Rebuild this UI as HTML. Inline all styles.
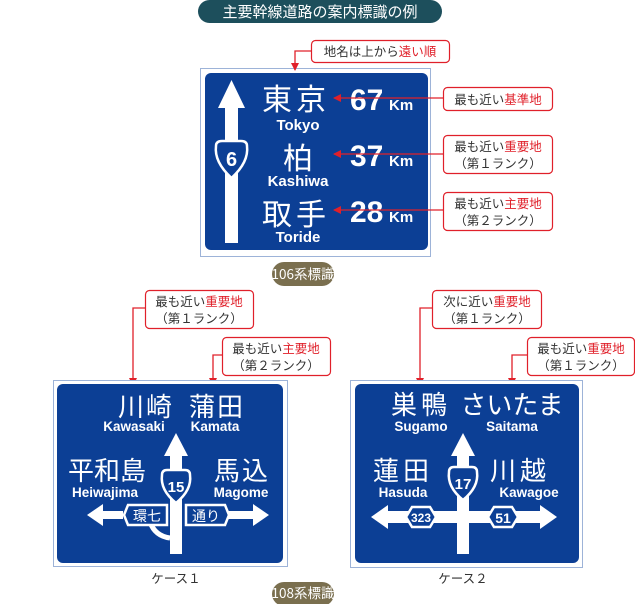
<!DOCTYPE html>
<html><head><meta charset="utf-8"><style>
html,body{margin:0;padding:0;background:#fff;}
svg{display:block;}
text{font-family:"Liberation Sans","Noto Sans CJK JP",sans-serif;}
.j{font-family:"Noto Sans CJK JP","Liberation Sans",sans-serif;}
</style></head><body>
<svg width="635" height="604" viewBox="0 0 635 604" xmlns="http://www.w3.org/2000/svg">
<defs>
<marker id="ar" markerWidth="8" markerHeight="8" refX="7" refY="4" orient="auto" markerUnits="userSpaceOnUse"><path d="M0,0 L8,4 L0,8 z" fill="#e0202a"/></marker>
</defs>
<rect x="198" y="0" width="244" height="23" rx="11.5" fill="#1d4f5c"/>
<text x="320" y="17" text-anchor="middle" font-size="15" fill="#fff" class="j">主要幹線道路の案内標識の例</text>

<rect x="200.5" y="68.5" width="230" height="188" fill="#fff" stroke="#9db3d8"/>
<rect x="205" y="73" width="223" height="177" rx="6" fill="#0c3f95"/>
<rect x="225" y="100" width="13" height="143" fill="#fff"/>
<path d="M231.5,80 L245,108 L218,108 z" fill="#fff"/>
<path d="M216,146 Q216,141 222,141 L241,141 Q247,141 247,146 Q249,162 231.5,178 Q214,162 216,146 z" fill="#0c3f95" stroke="#fff" stroke-width="2.5"/>
<text x="231.5" y="166" text-anchor="middle" font-size="20" font-weight="bold" fill="#fff">6</text>
<g fill="#fff" class="j">
<text x="296" y="110" text-anchor="middle" font-size="30" class="j" letter-spacing="4">東京</text>
<text x="298" y="169" text-anchor="middle" font-size="30" class="j">柏</text>
<text x="296" y="225" text-anchor="middle" font-size="30" class="j" letter-spacing="4">取手</text>
</g>
<g fill="#fff" font-weight="bold">
<text x="298" y="130" text-anchor="middle" font-size="15">Tokyo</text>
<text x="298" y="186" text-anchor="middle" font-size="15">Kashiwa</text>
<text x="298" y="242" text-anchor="middle" font-size="15">Toride</text>
<text x="350" y="110" font-size="30">67</text>
<text x="350" y="166" font-size="30">37</text>
<text x="350" y="222" font-size="30">28</text>
<text x="389" y="110" font-size="15">Km</text>
<text x="389" y="166" font-size="15">Km</text>
<text x="389" y="222" font-size="15">Km</text>
</g>
<g stroke="#e0202a" stroke-width="1.3" fill="none">
<line x1="443" y1="98" x2="334" y2="98" marker-end="url(#ar)"/>
<line x1="443" y1="154" x2="334" y2="154" marker-end="url(#ar)"/>
<line x1="443" y1="210" x2="334" y2="210" marker-end="url(#ar)"/>
<polyline points="311,51 295,51 295,70" marker-end="url(#ar)"/>
<polyline points="145,308 133,308 133,385" marker-end="url(#ar)"/>
<polyline points="222,355 213,355 213,385" marker-end="url(#ar)"/>
<polyline points="432,308 420,308 420,385" marker-end="url(#ar)"/>
<polyline points="527,355 512,355 512,385" marker-end="url(#ar)"/>
</g>
<g fill="#fff" stroke="#e0202a" stroke-width="1.2">
<rect x="311.5" y="40.5" width="138" height="22" rx="4"/>
<rect x="443.5" y="87.5" width="109" height="23" rx="4"/>
<rect x="443.5" y="135.5" width="109" height="38" rx="4"/>
<rect x="443.5" y="192.5" width="109" height="38" rx="4"/>
<rect x="145.5" y="290.5" width="108" height="38" rx="4"/>
<rect x="222.5" y="337.5" width="108" height="38" rx="4"/>
<rect x="432.5" y="290.5" width="109" height="38" rx="4"/>
<rect x="527.5" y="337.5" width="107" height="38" rx="4"/>
</g>
<g font-size="12.5" fill="#333" text-anchor="middle" class="j">
<text x="380" y="56" class="j">地名は上から<tspan fill="#e0202a">遠い順</tspan></text>
<text x="498" y="104" class="j">最も近い<tspan fill="#e0202a">基準地</tspan></text>
<text x="498" y="151" class="j">最も近い<tspan fill="#e0202a">重要地</tspan></text>
<text x="498" y="168" class="j">（第１ランク）</text>
<text x="498" y="208" class="j">最も近い<tspan fill="#e0202a">主要地</tspan></text>
<text x="498" y="225" class="j">（第２ランク）</text>
<text x="199" y="306" class="j">最も近い<tspan fill="#e0202a">重要地</tspan></text>
<text x="199" y="323" class="j">（第１ランク）</text>
<text x="276" y="353" class="j">最も近い<tspan fill="#e0202a">主要地</tspan></text>
<text x="276" y="370" class="j">（第２ランク）</text>
<text x="487" y="306" class="j">次に近い<tspan fill="#e0202a">重要地</tspan></text>
<text x="487" y="323" class="j">（第１ランク）</text>
<text x="581" y="353" class="j">最も近い<tspan fill="#e0202a">重要地</tspan></text>
<text x="581" y="370" class="j">（第１ランク）</text>
</g>
<rect x="272" y="262" width="62" height="24" rx="12" fill="#7a6f4f"/>
<text x="303" y="279" text-anchor="middle" font-size="13.5" fill="#fff" class="j">106系標識</text>

<rect x="53.5" y="380.5" width="234" height="186" fill="#fff" stroke="#9db3d8"/>
<rect x="57" y="384" width="226" height="179" rx="6" fill="#0c3f95"/>
<g fill="#fff">
<rect x="170" y="450" width="12" height="104"/>
<path d="M176,433 L188,456 L164,456 z"/>
<path d="M87,515 L103,504 L103,511 L123,511 L123,519 L103,519 L103,526 z"/>
<path d="M269,515 L253,504 L253,511 L228,511 L228,519 L253,519 L253,526 z"/>
</g>
<path d="M170,538 Q155,536 150,522" fill="none" stroke="#fff" stroke-width="5"/>
<path d="M162,475 Q162,470 167,470 L185,470 Q190,470 190,475 Q192,490 176,503 Q160,490 162,475 z" fill="#0c3f95" stroke="#fff" stroke-width="2.5"/>
<text x="176" y="492" text-anchor="middle" font-size="15" font-weight="bold" fill="#fff">15</text>
<path d="M128,505 L167,505 L167,525 L128,525 L124,515 z" fill="#0c3f95" stroke="#fff" stroke-width="2.5"/>
<path d="M186,505 L225,505 L229,515 L225,525 L186,525 z" fill="#0c3f95" stroke="#fff" stroke-width="2.5"/>
<g fill="#fff" class="j">
<text x="147" y="521" text-anchor="middle" font-size="14" class="j">環七</text>
<text x="206" y="521" text-anchor="middle" font-size="14" class="j">通り</text>
<text x="146" y="416" text-anchor="middle" font-size="26" class="j" letter-spacing="2">川崎</text>
<text x="217" y="416" text-anchor="middle" font-size="26" class="j" letter-spacing="2">蒲田</text>
<text x="107" y="480" text-anchor="middle" font-size="26" class="j">平和島</text>
<text x="242" y="480" text-anchor="middle" font-size="26" class="j" letter-spacing="2">馬込</text>
</g>
<g fill="#fff" font-weight="bold" font-size="13.5" text-anchor="middle">
<text x="134" y="431">Kawasaki</text>
<text x="215" y="431">Kamata</text>
<text x="105" y="497">Heiwajima</text>
<text x="241" y="497">Magome</text>
</g>
<text x="176" y="583" text-anchor="middle" font-size="12.5" fill="#333" class="j">ケース１</text>

<rect x="350.5" y="380.5" width="232" height="187" fill="#fff" stroke="#9db3d8"/>
<rect x="355" y="384" width="224" height="179" rx="6" fill="#0c3f95"/>
<g fill="#fff">
<rect x="457" y="450" width="12" height="104"/>
<path d="M463,433 L475,456 L451,456 z"/>
<rect x="385" y="511" width="158" height="12"/>
<path d="M371,517 L388,505 L388,529 z"/>
<path d="M557,517 L540,505 L540,529 z"/>
</g>
<path d="M449,472 Q449,467 454,467 L472,467 Q477,467 477,472 Q479,487 463,500 Q447,487 449,472 z" fill="#0c3f95" stroke="#fff" stroke-width="2.5"/>
<text x="463" y="489" text-anchor="middle" font-size="15" font-weight="bold" fill="#fff">17</text>
<path d="M412,507 L430,507 L436,517 L430,527 L412,527 L406,517 z" fill="#0c3f95" stroke="#fff" stroke-width="2.5"/>
<path d="M494,507 L512,507 L518,517 L512,527 L494,527 L488,517 z" fill="#0c3f95" stroke="#fff" stroke-width="2.5"/>
<text x="421" y="522" text-anchor="middle" font-size="12" font-weight="bold" fill="#fff" textLength="20" lengthAdjust="spacingAndGlyphs">323</text>
<text x="503" y="523" text-anchor="middle" font-size="14" font-weight="bold" fill="#fff">51</text>
<g fill="#fff" class="j">
<text x="421" y="414" text-anchor="middle" font-size="26" class="j" letter-spacing="4">巣鴨</text>
<text x="512" y="414" text-anchor="middle" font-size="26" class="j">さいたま</text>
<text x="403" y="480" text-anchor="middle" font-size="26" class="j" letter-spacing="4">蓮田</text>
<text x="520" y="480" text-anchor="middle" font-size="26" class="j" letter-spacing="4">川越</text>
</g>
<g fill="#fff" font-weight="bold" font-size="13.5" text-anchor="middle">
<text x="421" y="431">Sugamo</text>
<text x="512" y="431">Saitama</text>
<text x="403" y="497">Hasuda</text>
<text x="529" y="497">Kawagoe</text>
</g>
<text x="463" y="583" text-anchor="middle" font-size="12.5" fill="#333" class="j">ケース２</text>

<rect x="272" y="582" width="62" height="24" rx="12" fill="#7a6f4f"/>
<text x="303" y="598" text-anchor="middle" font-size="13.5" fill="#fff" class="j">108系標識</text>
</svg>
</body></html>
